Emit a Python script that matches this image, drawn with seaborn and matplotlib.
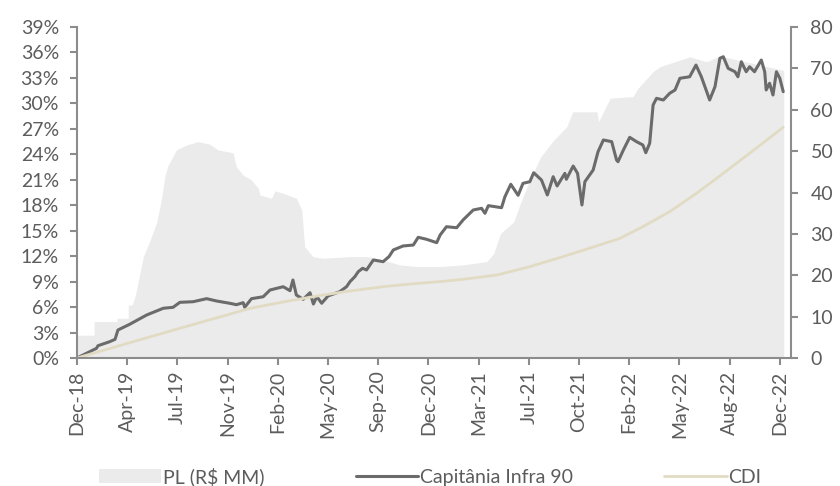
import pandas as pd
import seaborn as sns
import matplotlib.pyplot as plt
import matplotlib.dates as mdates
from matplotlib.ticker import FuncFormatter

# Dati
pl_dates = ['2018-12-28', '2019-02-01', '2019-02-01', '2019-03-20', '2019-03-20', '2019-04-12',
            '2019-04-12', '2019-04-20', '2019-04-26', '2019-05-06', '2019-05-13', '2019-05-27',
            '2019-06-09', '2019-06-19', '2019-06-26', '2019-07-03', '2019-07-20', '2019-08-10',
            '2019-09-02', '2019-09-26', '2019-10-13', '2019-11-13', '2019-11-20', '2019-12-04',
            '2019-12-21', '2020-01-04', '2020-01-07', '2020-01-31', '2020-02-07', '2020-02-24',
            '2020-03-22', '2020-04-02', '2020-04-08', '2020-04-25', '2020-05-16', '2020-07-10',
            '2020-08-13', '2020-09-16', '2020-10-20', '2020-11-24', '2021-01-11', '2021-02-27',
            '2021-04-17', '2021-05-01', '2021-05-15', '2021-06-11', '2021-06-25', '2021-07-14',
            '2021-08-05', '2021-08-31', '2021-09-28', '2021-10-10', '2021-11-29', '2021-12-02',
            '2021-12-26', '2022-02-11', '2022-02-21', '2022-03-24', '2022-04-07', '2022-06-07',
            '2022-07-12', '2022-08-08', '2022-10-15', '2022-12-17']
pl_values = [5.5, 5.5, 8.8, 8.8, 9.6, 9.6,
             12.8, 12.8, 14.8, 20.5, 24.5, 28.5,
             32.6, 38.2, 43.8, 46.6, 50.3, 51.5,
             52.3, 51.7, 50.3, 49.6, 46.2, 44.2,
             43.0, 41.0, 39.4, 38.6, 40.4, 39.8,
             38.6, 35.8, 26.9, 24.5, 24.1, 24.5,
             24.5, 23.7, 22.5, 22.1, 22.1, 22.5,
             23.3, 25.3, 30.1, 32.9, 37.5, 43.0,
             48.5, 52.5, 55.9, 59.5, 59.5, 57.1,
             62.8, 63.2, 65.2, 69.2, 70.4, 72.8,
             71.6, 73.0, 71.2, 69.5]

fundo_dates = ['2018-12-28', '2019-02-06', '2019-02-09', '2019-03-05', '2019-03-16', '2019-03-22',
               '2019-04-15', '2019-05-20', '2019-06-23', '2019-07-13', '2019-07-27', '2019-08-23',
               '2019-09-20', '2019-10-10', '2019-11-06', '2019-11-20', '2019-12-04', '2019-12-07',
               '2019-12-21', '2020-01-07', '2020-01-14', '2020-01-28', '2020-02-24', '2020-03-09',
               '2020-03-15', '2020-03-22', '2020-04-05', '2020-04-19', '2020-04-26', '2020-05-03',
               '2020-05-13', '2020-05-26', '2020-06-19', '2020-07-03', '2020-07-10', '2020-07-20',
               '2020-07-27', '2020-08-05', '2020-08-13', '2020-08-27', '2020-09-16', '2020-09-28',
               '2020-10-07', '2020-10-27', '2020-11-17', '2020-11-27', '2020-12-14', '2021-01-04',
               '2021-01-11', '2021-01-24', '2021-02-14', '2021-02-27', '2021-03-20', '2021-04-06',
               '2021-04-13', '2021-04-20', '2021-05-17', '2021-05-24', '2021-06-05', '2021-06-20',
               '2021-06-30', '2021-07-14', '2021-07-22', '2021-08-07', '2021-08-19', '2021-08-31',
               '2021-09-08', '2021-09-24', '2021-09-27', '2021-10-11', '2021-10-20', '2021-10-29',
               '2021-11-04', '2021-11-21', '2021-12-01', '2021-12-12', '2021-12-29', '2022-01-08',
               '2022-01-11', '2022-01-22', '2022-02-04', '2022-02-18', '2022-03-03', '2022-03-09',
               '2022-03-17', '2022-03-24', '2022-03-31', '2022-04-14', '2022-04-27', '2022-05-08',
               '2022-05-18', '2022-06-07', '2022-06-20', '2022-07-01', '2022-07-12', '2022-07-18',
               '2022-07-29', '2022-08-08', '2022-08-15', '2022-08-25', '2022-09-08', '2022-09-14',
               '2022-09-21', '2022-10-01', '2022-10-08', '2022-10-18', '2022-11-01', '2022-11-08',
               '2022-11-11', '2022-11-18', '2022-11-25', '2022-12-02', '2022-12-09', '2022-12-16']
fundo_values = [0.0, 1.14, 1.45, 1.92, 2.20, 3.30,
                3.97, 5.07, 5.86, 5.97, 6.56, 6.63,
                6.99, 6.72, 6.45, 6.28, 6.52, 5.97,
                6.99, 7.15, 7.22, 8.01, 8.40, 7.93,
                9.19, 7.42, 6.92, 7.69, 6.36, 7.22,
                6.45, 7.31, 7.81, 8.40, 8.99, 9.58,
                10.17, 10.57, 10.37, 11.55, 11.35, 11.94,
                12.73, 13.20, 13.31, 14.22, 13.99, 13.59,
                14.49, 15.47, 15.35, 16.26, 17.44, 17.64,
                17.05, 17.95, 17.71, 19.01, 20.47, 19.17,
                20.58, 20.77, 21.83, 20.97, 19.21, 21.36,
                20.27, 21.76, 21.06, 22.62, 21.76, 18.03,
                20.77, 22.15, 24.31, 25.69, 25.49, 23.33,
                23.13, 24.51, 26.00, 25.49, 25.10, 24.19,
                25.30, 29.81, 30.60, 30.40, 31.19, 31.58,
                32.96, 33.14, 34.52, 33.14, 31.38, 30.40,
                31.97, 35.31, 35.50, 34.13, 33.73, 33.14,
                34.91, 33.73, 34.32, 33.73, 35.11, 33.73,
                31.58, 32.37, 30.99, 33.73, 32.96, 31.38]

cdi_dates = ['2018-12-28', '2019-04-09', '2019-07-21', '2019-12-18', '2020-02-24', '2020-05-03',
             '2020-07-10', '2020-09-16', '2020-11-17', '2021-01-11', '2021-02-27', '2021-05-08',
             '2021-07-14', '2021-09-20', '2021-11-28', '2022-01-15', '2022-03-03', '2022-04-27',
             '2022-06-21', '2022-08-15', '2022-10-08', '2022-12-16']
cdi_values = [0.0, 1.7, 3.4, 5.85, 6.6, 7.3,
              7.9, 8.4, 8.75, 9.0, 9.27, 9.78,
              10.76, 11.94, 13.2, 14.1, 15.47, 17.24,
              19.4, 21.76, 24.12, 27.18]

pl = pd.DataFrame({'data': pd.to_datetime(pl_dates), 'pl': pl_values})
fundo = pd.DataFrame({'data': pd.to_datetime(fundo_dates), 'ret': fundo_values})
cdi = pd.DataFrame({'data': pd.to_datetime(cdi_dates), 'ret': cdi_values})

sns.set_theme(style="white")
plt.rcParams['font.family'] = ['Lato', 'DejaVu Sans']

testo = '#5c5c5c'
asse = '#8c8c8c'

fig = plt.figure(figsize=(8.4, 4.86), dpi=100)
ax = fig.add_axes([0.0917, 0.2634, 0.85, 0.681])
ax2 = ax.twinx()

# Area PL sull'asse destro
ax2.fill_between(pl['data'], pl['pl'], color='#ebebeb', lw=0, label='PL (R\\$ MM)')

# Linee rendimento sull'asse sinistro
sns.lineplot(data=fundo, x='data', y='ret', ax=ax, color='#6b6b6b', lw=2.2,
             label='Capitânia Infra 90')
sns.lineplot(data=cdi, x='data', y='ret', ax=ax, color='#e2dbc3', lw=2.0, label='CDI')

ax.set_zorder(ax2.get_zorder() + 1)
ax.patch.set_visible(False)

ax.set_ylim(0, 39)
ax.set_yticks(range(0, 40, 3))
ax.yaxis.set_major_formatter(FuncFormatter(lambda v, p: f'{v:.0f}%'))
ax2.set_ylim(0, 80)
ax2.set_yticks(range(0, 81, 10))

tick_dates = pd.date_range('2018-12-28', periods=15, freq='103D')
ax.set_xlim(pd.Timestamp('2018-12-28'), pd.Timestamp('2023-01-01'))
ax.set_xticks(tick_dates)
ax.xaxis.set_major_formatter(mdates.DateFormatter('%b-%y'))
ax.set_xlabel('')
ax.set_ylabel('')

for a in (ax, ax2):
    for s in a.spines.values():
        s.set_visible(False)
        s.set_color(asse)
        s.set_linewidth(1.5)
ax.spines['left'].set_visible(True)
ax.spines['bottom'].set_visible(True)
ax2.spines['right'].set_visible(True)

ax.tick_params(axis='both', direction='out', length=5, width=1.5, color=asse,
               labelcolor=testo, labelsize=14, left=True, bottom=True)
ax.tick_params(axis='y', pad=8)
ax.tick_params(axis='x', labelrotation=90, pad=4)
ax2.tick_params(axis='y', direction='out', length=5, width=1.5, color=asse,
                labelcolor=testo, labelsize=14, right=True, pad=9)

# Legenda in basso
h1, l1 = ax2.get_legend_handles_labels()
h2, l2 = ax.get_legend_handles_labels()
ax.get_legend().remove()
fig.legend(h1 + h2, l1 + l2, loc='center', bbox_to_anchor=(0.512, 0.02), ncol=3,
           frameon=False, handlelength=3.2, handletextpad=0.1, columnspacing=4.7,
           prop={'family': ['Liberation Sans Narrow', 'Lato', 'DejaVu Sans'], 'size': 14},
           labelcolor=testo)

plt.savefig('out.png', dpi=100)
